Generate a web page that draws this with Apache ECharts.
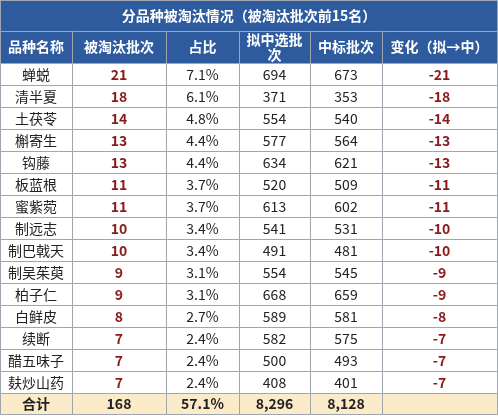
<!DOCTYPE html><html><head><meta charset="utf-8"><script src="https://cdn.jsdelivr.net/npm/echarts@6/dist/echarts.min.js"></script>
<style>html,body{margin:0;padding:0;background:#fff}#c{width:498px;height:418px}</style></head><body><div id="c"></div><script>
const title='分品种被淘汰情况（被淘汰批次前15名）';
const headers=['品种名称','被淘汰批次','占比','拟中选批\n次','中标批次','变化（拟→中）'];
const names=['蝉蜕','清半夏','土茯苓','槲寄生','钩藤','板蓝根','蜜紫菀','制远志','制巴戟天','制吴茱萸','柏子仁','白鲜皮','续断','醋五味子','麸炒山药'];
const eliminated=[21,18,14,13,13,11,11,10,10,9,9,8,7,7,7];
const share=['7.1%','6.1%','4.8%','4.4%','4.4%','3.7%','3.7%','3.4%','3.4%','3.1%','3.1%','2.7%','2.4%','2.4%','2.4%'];
const proposed=[694,371,554,577,634,520,613,541,491,554,668,589,582,500,408];
const awarded=[673,353,540,564,621,509,602,531,481,545,659,581,575,493,401];
const change=[-21,-18,-14,-13,-13,-11,-11,-10,-10,-9,-9,-8,-7,-7,-7];
const total=['合计','168','57.1%','8,296','8,128',''];
const xs=[0,72,166,239,310,382,497];
const F='"Noto Sans CJK SC","Microsoft YaHei",sans-serif';
const els=[];
const blue='#2E5B9E', red='#8B1A1A';
function rect(x,y,w,h,fill){els.push({type:'rect',shape:{x,y,width:w,height:h},style:{fill,stroke:'#9FA6B0',lineWidth:1}});}
function text(cx,cy,t,fill,bold,size){els.push({type:'text',x:cx,y:cy,style:{text:t,fill,font:(bold?'bold ':'')+size+'px '+F,align:'center',verticalAlign:'middle',lineHeight:15}});}
rect(0.5,0.5,497,31,blue);text(249,16,title,'#fff',true,14);
for(let c=0;c<6;c++){rect(xs[c]+0.5,31.5,xs[c+1]-xs[c],32,blue);text((xs[c]+xs[c+1])/2,47,headers[c],'#fff',true,14);}
const rh=22;
for(let i=0;i<names.length;i++){const y=63.5+i*rh;const vals=[names[i],String(eliminated[i]),share[i],String(proposed[i]),String(awarded[i]),String(change[i])];
for(let c=0;c<6;c++){rect(xs[c]+0.5,y,xs[c+1]-xs[c],rh,'#fff');const special=(c==1||c==5);text((xs[c]+xs[c+1])/2,y+rh/2,vals[c],special?red:'#222',special,14);}}
const ty=63.5+names.length*rh;
for(let c=0;c<6;c++){rect(xs[c]+0.5,ty,xs[c+1]-xs[c],21,'#FCEBC9');text((xs[c]+xs[c+1])/2,ty+10.5,total[c],'#222',true,14);}
echarts.init(document.getElementById('c')).setOption({animation:false,graphic:{elements:els}});
</script></body></html>
